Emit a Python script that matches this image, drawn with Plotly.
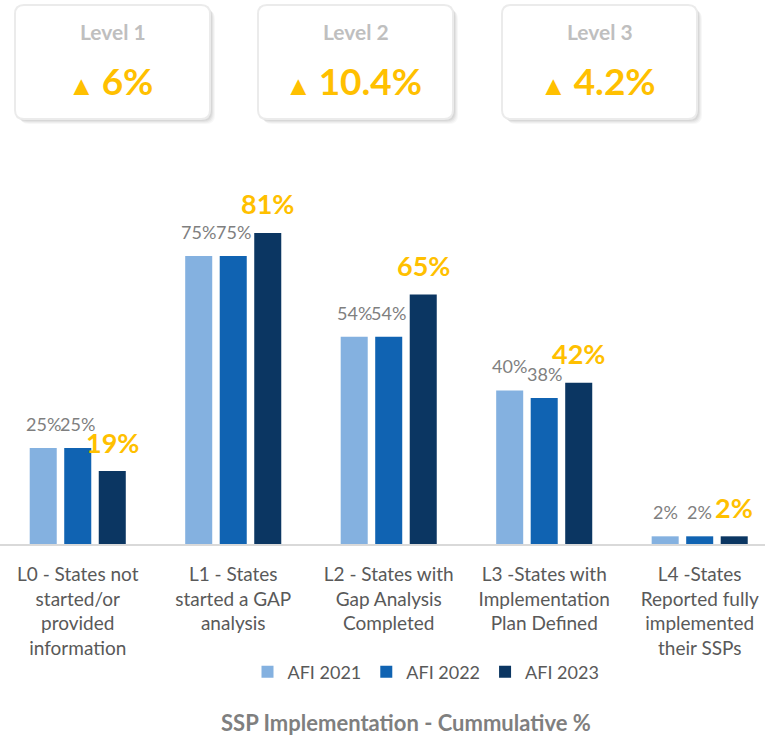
import plotly.graph_objects as go

# ---- data ----
categories = [
    "L0 - States not<br>started/or<br>provided<br>information",
    "L1 - States<br>started a GAP<br>analysis",
    "L2 - States with<br>Gap Analysis<br>Completed",
    "L3 -States with<br>Implementation<br>Plan Defined",
    "L4 -States<br>Reported fully<br>implemented<br>their SSPs",
]
series_names = ["AFI 2021", "AFI 2022", "AFI 2023"]
afi_2021 = [25, 75, 54, 40, 2]
afi_2022 = [25, 75, 54, 38, 2]
afi_2023 = [19, 81, 65, 42, 2]

kpi_levels = ["Level 1", "Level 2", "Level 3"]
kpi_deltas = ["6%", "10.4%", "4.2%"]

title_text = "SSP Implementation - Cummulative %"

# ---- style ----
W, H = 765, 736
M_T, M_B = 160, 192
PLOT_H = H - M_T - M_B
colors = ["#84B1E0", "#1063B2", "#0B3662"]
FONT = "Lato"
ORANGE = "#FFC000"

fig = go.Figure()
series = [afi_2021, afi_2022, afi_2023]
for name, vals, col in zip(series_names, series, colors):
    fig.add_trace(go.Bar(
        x=categories, y=vals, name=name,
        marker=dict(color=col, line=dict(color=col, width=0)),
        hoverinfo="skip",
    ))

# value labels
slot_px = 34.5
annotations = []
for i, vals in enumerate(series):
    for c, v in zip(categories, vals):
        if i < 2:
            font = dict(family=FONT, size=18, color="#7F7F7F")
            ys = 24
            txt = f"{v}%"
        else:
            font = dict(family=FONT, size=27, color=ORANGE)
            ys = 29
            txt = f"<b>{v}%</b>"
        annotations.append(dict(
            x=c, y=v, xref="x", yref="y", text=txt, showarrow=False,
            font=font, xanchor="center", yanchor="middle",
            xshift=(i - 1) * slot_px, yshift=ys,
        ))

# helpers px -> paper
def px_x(px):
    return px / W

def px_y(py):
    return (H - M_B - py) / PLOT_H

def rounded_rect(x0, y0, x1, y1, r):
    X = lambda v: px_x(v)
    Y = lambda v: px_y(v)
    return (
        f"M{X(x0 + r)},{Y(y0)} L{X(x1 - r)},{Y(y0)} Q{X(x1)},{Y(y0)} {X(x1)},{Y(y0 + r)} "
        f"L{X(x1)},{Y(y1 - r)} Q{X(x1)},{Y(y1)} {X(x1 - r)},{Y(y1)} "
        f"L{X(x0 + r)},{Y(y1)} Q{X(x0)},{Y(y1)} {X(x0)},{Y(y1 - r)} "
        f"L{X(x0)},{Y(y0 + r)} Q{X(x0)},{Y(y0)} {X(x0 + r)},{Y(y0)} Z"
    )

shapes = []
card_left = [15, 258, 502]
card_w, card_top, card_bot = 195, 5, 119
for k, (lvl, dlt) in enumerate(zip(kpi_levels, kpi_deltas)):
    x0 = card_left[k]
    x1 = x0 + card_w
    for off, alpha in [(5, 0.03), (4, 0.035), (3, 0.045), (2, 0.05)]:
        shapes.append(dict(type="path", xref="paper", yref="paper",
                           path=rounded_rect(x0 + off, card_top + off, x1 + off, card_bot + off, 9),
                           fillcolor=f"rgba(0,0,0,{alpha})", line=dict(width=0), layer="above"))
    shapes.append(dict(type="path", xref="paper", yref="paper",
                       path=rounded_rect(x0, card_top, x1, card_bot, 9),
                       fillcolor="white", line=dict(color="#EBEBEB", width=2), layer="above"))
    cx = px_x((x0 + x1) / 2)
    annotations.append(dict(x=cx, y=px_y(31), xref="paper", yref="paper",
                            text=f"<b>{lvl}</b>", showarrow=False,
                            font=dict(family=FONT, size=21, color="#BFBFBF"),
                            xanchor="center", yanchor="middle"))
    annotations.append(dict(x=px_x((x0 + x1) / 2 - 2), y=px_y(81), xref="paper", yref="paper",
                            text=f"<span style='font-size:27px'>▲ </span><b>{dlt}</b>", showarrow=False,
                            font=dict(family=FONT, size=37, color=ORANGE),
                            xanchor="center", yanchor="middle"))

annotations.append(dict(x=px_x(406), y=px_y(722), xref="paper", yref="paper",
                        text=f"<b>{title_text}</b>", showarrow=False,
                        font=dict(family=FONT, size=22, color="#7F7F7F"),
                        xanchor="center", yanchor="middle"))

fig.update_layout(
    width=W, height=H,
    margin=dict(l=0, r=0, t=M_T, b=M_B),
    paper_bgcolor="white", plot_bgcolor="white",
    barmode="group", bargap=0.334, bargroupgap=0.217,
    showlegend=True,
    legend=dict(orientation="h", x=px_x(426), xanchor="center",
                y=px_y(672), yanchor="middle",
                font=dict(family=FONT, size=18, color="#595959"),
                itemclick=False, itemdoubleclick=False),
    annotations=annotations,
    shapes=shapes,
    xaxis=dict(range=[-0.5, 4.42], showline=True, linecolor="#D9D9D9", linewidth=2,
               ticks="", tickfont=dict(family=FONT, size=19, color="#595959"),
               ticklabelstandoff=12, showgrid=False, zeroline=False, fixedrange=True),
    yaxis=dict(range=[0, 100], visible=False, showgrid=False, zeroline=False, fixedrange=True),
)

fig.write_html("out.html", config={"displayModeBar": False},
               post_script="document.body.style.margin='0px';")
